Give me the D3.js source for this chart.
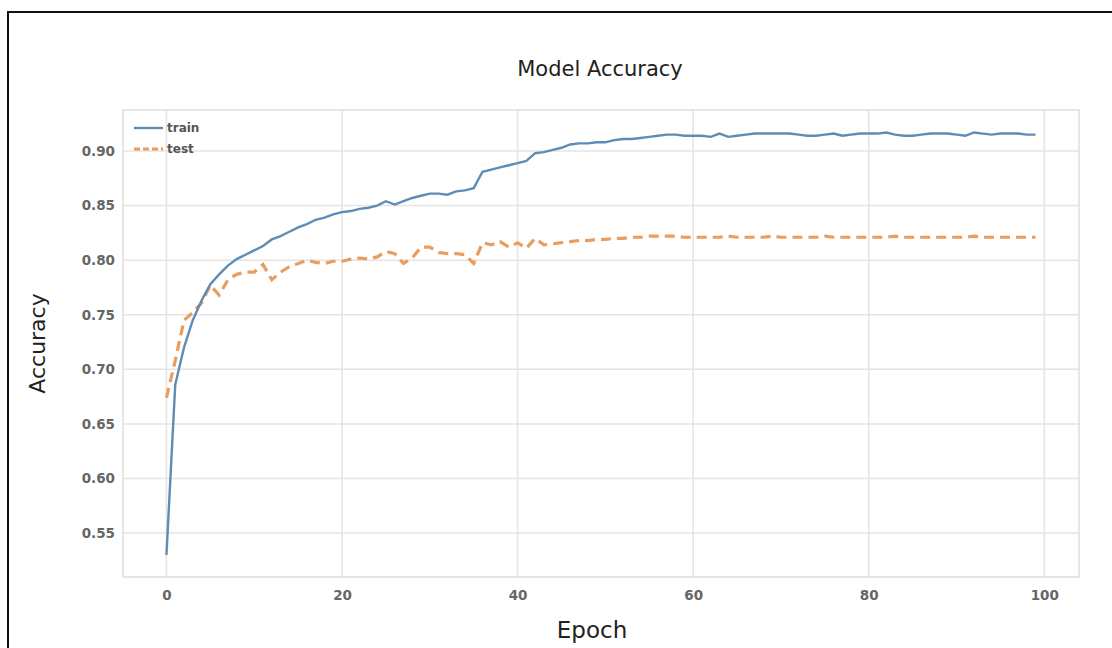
<!DOCTYPE html>
<html>
  <head>
    <style>
      body { margin: 0; background: #fff; }
      .grid line { stroke: #e4e4e4; stroke-width: 1.5px; }
      .tick text { font-family: "DejaVu Sans", sans-serif; font-size: 13.5px; font-weight: bold; fill: #666; }
      .label { font-family: "DejaVu Sans", sans-serif; fill: #222; }
      .legend text { font-family: "DejaVu Sans", sans-serif; font-size: 12px; font-weight: bold; fill: #555; }
    </style>
    <script src="https://d3js.org/d3.v7.min.js"></script>
  </head>
  <body>
    <svg class="chart"></svg>

    <script>
      const train = [
        0.530, 0.686, 0.720, 0.745, 0.763, 0.778, 0.787, 0.795, 0.801, 0.805,
        0.809, 0.813, 0.819, 0.822, 0.826, 0.830, 0.833, 0.837, 0.839, 0.842,
        0.844, 0.845, 0.847, 0.848, 0.850, 0.854, 0.851, 0.854, 0.857, 0.859,
        0.861, 0.861, 0.860, 0.863, 0.864, 0.866, 0.881, 0.883, 0.885, 0.887,
        0.889, 0.891, 0.898, 0.899, 0.901, 0.903, 0.906, 0.907, 0.907, 0.908,
        0.908, 0.910, 0.911, 0.911, 0.912, 0.913, 0.914, 0.915, 0.915, 0.914,
        0.914, 0.914, 0.913, 0.916, 0.913, 0.914, 0.915, 0.916, 0.916, 0.916,
        0.916, 0.916, 0.915, 0.914, 0.914, 0.915, 0.916, 0.914, 0.915, 0.916,
        0.916, 0.916, 0.917, 0.915, 0.914, 0.914, 0.915, 0.916, 0.916, 0.916,
        0.915, 0.914, 0.917, 0.916, 0.915, 0.916, 0.916, 0.916, 0.915, 0.915
      ];
      const test = [
        0.674, 0.708, 0.745, 0.752, 0.761, 0.777, 0.768, 0.782, 0.787, 0.789,
        0.789, 0.796, 0.782, 0.789, 0.794, 0.797, 0.800, 0.798, 0.797, 0.799,
        0.799, 0.801, 0.802, 0.801, 0.803, 0.808, 0.806, 0.797, 0.802, 0.812,
        0.812, 0.807, 0.806, 0.806, 0.805, 0.797, 0.816, 0.814, 0.817, 0.812,
        0.816, 0.811, 0.820, 0.814, 0.815, 0.816, 0.817, 0.818, 0.818, 0.819,
        0.819, 0.820, 0.820, 0.821, 0.821, 0.822, 0.822, 0.822, 0.822, 0.821,
        0.821, 0.821, 0.821, 0.821, 0.822, 0.821, 0.821, 0.821, 0.821, 0.822,
        0.821, 0.821, 0.821, 0.821, 0.821, 0.822, 0.821, 0.821, 0.821, 0.821,
        0.821, 0.821, 0.821, 0.822, 0.821, 0.821, 0.821, 0.821, 0.821, 0.821,
        0.821, 0.821, 0.822, 0.821, 0.821, 0.821, 0.821, 0.821, 0.821, 0.821
      ];
      const xTicks = [0, 20, 40, 60, 80, 100];
      const yTicks = [0.55, 0.60, 0.65, 0.70, 0.75, 0.80, 0.85, 0.90];
      const seriesNames = ['train', 'test'];

      const W = 1112, H = 648;
      const plot = { left: 123, top: 110, right: 1079, bottom: 577 };

      const svg = d3.select('svg').attr('width', W).attr('height', H);

      // frame around the whole figure
      svg.append('rect')
        .attr('x', 8).attr('y', 12)
        .attr('width', W + 10).attr('height', H + 10)
        .attr('fill', 'none').attr('stroke', '#111').attr('stroke-width', 2);

      const x = d3.scaleLinear().domain([-4.95, 103.95]).range([plot.left, plot.right]);
      const y = d3.scaleLinear().domain([0.5097, 0.9376]).range([plot.bottom, plot.top]);

      const gx = svg.append('g').attr('class', 'grid');
      gx.selectAll('line.v').data(xTicks).join('line')
        .attr('x1', d => x(d)).attr('x2', d => x(d))
        .attr('y1', plot.top).attr('y2', plot.bottom);
      gx.selectAll('line.h').data(yTicks).join('line')
        .attr('y1', d => y(d)).attr('y2', d => y(d))
        .attr('x1', plot.left).attr('x2', plot.right);

      svg.append('rect')
        .attr('x', plot.left).attr('y', plot.top)
        .attr('width', plot.right - plot.left).attr('height', plot.bottom - plot.top)
        .attr('fill', 'none').attr('stroke', '#dedede').attr('stroke-width', 1.5);

      const xAxis = svg.append('g')
        .attr('transform', `translate(0,${plot.bottom})`)
        .call(d3.axisBottom(x).tickValues(xTicks).tickSize(0).tickPadding(13));
      xAxis.select('.domain').remove();

      const yAxis = svg.append('g')
        .attr('transform', `translate(${plot.left},0)`)
        .call(d3.axisLeft(y).tickValues(yTicks).tickFormat(d3.format('.2f')).tickSize(0).tickPadding(8));
      yAxis.select('.domain').remove();

      const line = d3.line()
        .x((d, i) => x(i))
        .y(d => y(d));

      svg.append('path').datum(test)
        .attr('d', line)
        .attr('fill', 'none')
        .attr('stroke', '#e99d5f')
        .attr('stroke-width', 3.2)
        .attr('stroke-dasharray', '10,6');

      svg.append('path').datum(train)
        .attr('d', line)
        .attr('fill', 'none')
        .attr('stroke', '#5d8db6')
        .attr('stroke-width', 2.4);

      // legend
      const legend = svg.append('g').attr('class', 'legend');
      const legendStyles = [
        { color: '#5d8db6', width: 2.4, dash: null },
        { color: '#e99d5f', width: 3.2, dash: '6,3' }
      ];
      seriesNames.forEach((name, i) => {
        const ly = 128 + i * 21;
        legend.append('line')
          .attr('x1', 134).attr('x2', 163).attr('y1', ly).attr('y2', ly)
          .attr('stroke', legendStyles[i].color)
          .attr('stroke-width', legendStyles[i].width)
          .attr('stroke-dasharray', legendStyles[i].dash);
        legend.append('text')
          .attr('x', 167).attr('y', ly + 4)
          .text(name);
      });

      svg.append('text').attr('class', 'label')
        .attr('x', 600).attr('y', 76)
        .attr('text-anchor', 'middle')
        .attr('font-size', 21)
        .text('Model Accuracy');

      svg.append('text').attr('class', 'label')
        .attr('x', 592).attr('y', 638)
        .attr('text-anchor', 'middle')
        .attr('font-size', 23)
        .text('Epoch');

      svg.append('text').attr('class', 'label')
        .attr('transform', `translate(45,${(plot.top + plot.bottom) / 2}) rotate(-90)`)
        .attr('text-anchor', 'middle')
        .attr('font-size', 22)
        .text('Accuracy');
    </script>
  </body>
</html>
